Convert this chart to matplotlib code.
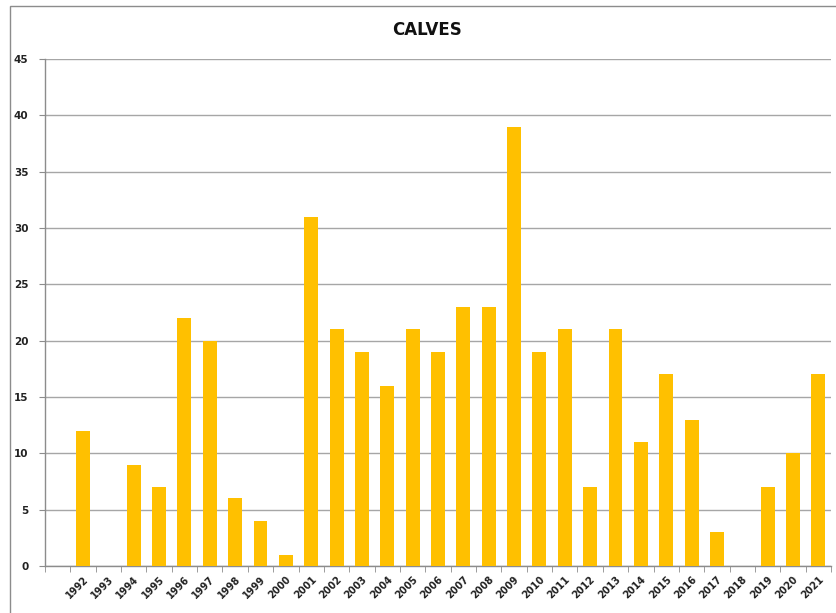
import matplotlib
matplotlib.use("Agg")
import matplotlib.pyplot as plt
from matplotlib.patches import Rectangle
import numpy as np

years = [str(y) for y in range(1992, 2022)]
calves = [12, 0, 9, 7, 22, 20, 6, 4, 1, 31, 21, 19, 16, 21, 19, 23, 23, 39,
          19, 21, 7, 21, 11, 17, 13, 3, 0, 7, 10, 17]
yticks = [0, 5, 10, 15, 20, 25, 30, 35, 40, 45]

fig = plt.figure(figsize=(8.36, 6.13), dpi=100)
ax = fig.add_axes([45/836, 1-566/613, (831-45)/836, (566-59)/613])

x = np.arange(len(years))
ax.bar(x, calves, width=0.55, color="#FFC000", zorder=3)

ax.set_xlim(-1.5, len(years) - 0.5)
ax.set_ylim(0, 45)
ax.set_yticks(yticks)
ax.set_yticklabels([str(v) for v in yticks], fontsize=7.5, fontweight="bold", color="#222222")
ax.yaxis.grid(True, color="#a6a6a6", linewidth=1.0, zorder=0)

ax.set_xticks(x)
ax.set_xticklabels(years, rotation=45, ha="right", rotation_mode="anchor",
                   fontsize=7, fontweight="bold", color="#222222")
ax.tick_params(axis="x", which="major", length=0, pad=6)
ax.set_xticks(np.arange(-1.5, len(years), 1.0), minor=True)
ax.tick_params(axis="x", which="minor", length=4, color="#8c8c8c", direction="out")
ax.tick_params(axis="y", length=4, color="#8c8c8c", direction="out", pad=8)

for s in ["top", "right"]:
    ax.spines[s].set_visible(False)
for s in ["left", "bottom"]:
    ax.spines[s].set_color("#8c8c8c")
    ax.spines[s].set_linewidth(1.0)

fig.text(427/836, 1-30/613, "CALVES", ha="center", va="center",
         fontsize=12, fontweight="bold", color="#111111")

fig.patches.append(Rectangle((9.5/836, -0.05), 1.2, 1-6/613 + 0.05,
                             transform=fig.transFigure, fill=False,
                             edgecolor="#8c8c8c", linewidth=1.0))

fig.savefig("out.png", dpi=100)
